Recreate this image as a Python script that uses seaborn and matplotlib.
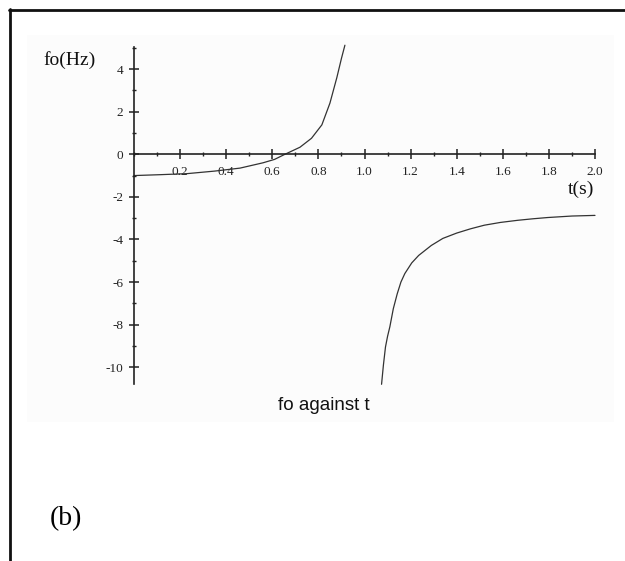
import numpy as np
import pandas as pd
import matplotlib
matplotlib.use("Agg")
import matplotlib.pyplot as plt
from matplotlib.patches import Rectangle
from matplotlib.lines import Line2D
from matplotlib.ticker import MultipleLocator, FixedLocator, FuncFormatter
import seaborn as sns

# fo against t: two branches either side of the pole near t = 1 s
t_left = [0.0, 0.11, 0.23, 0.35, 0.46, 0.56, 0.61, 0.655, 0.72, 0.77, 0.815, 0.85, 0.88, 0.90, 0.915]
fo_left = [-1.0, -0.96, -0.91, -0.79, -0.65, -0.40, -0.24, 0.0, 0.33, 0.75, 1.38, 2.4, 3.6, 4.5, 5.12]

t_right = [1.074, 1.082, 1.091, 1.10, 1.11, 1.125, 1.142, 1.158, 1.175, 1.205, 1.235, 1.29,
           1.34, 1.40, 1.46, 1.52, 1.59, 1.665, 1.73, 1.795, 1.90, 2.0]
fo_right = [-10.8, -9.9, -9.05, -8.55, -8.1, -7.25, -6.55, -6.0, -5.6, -5.1, -4.75, -4.28,
            -3.95, -3.70, -3.50, -3.33, -3.20, -3.10, -3.03, -2.97, -2.90, -2.87]

x_ticks = [0.2, 0.4, 0.6, 0.8, 1.0, 1.2, 1.4, 1.6, 1.8, 2.0]
y_ticks = [-10, -8, -6, -4, -2, 0, 2, 4]

df = pd.DataFrame({
    "t": t_left + t_right,
    "fo": fo_left + fo_right,
    "branch": ["left"] * len(t_left) + ["right"] * len(t_right),
})

sns.set_style("white")
plt.rcParams["axes.unicode_minus"] = False
plt.rcParams["font.family"] = ["Liberation Serif", "DejaVu Serif"]

fig = plt.figure(figsize=(6.25, 5.61), dpi=100)
W, H = 625, 561

# frame lines along the top and left of the figure
fig.add_artist(Line2D([9 / W, 1.0], [1 - 10 / H, 1 - 10 / H], transform=fig.transFigure,
                      color="#111111", lw=2.0))
fig.add_artist(Line2D([10 / W, 10 / W], [0.0, 1 - 9 / H], transform=fig.transFigure,
                      color="#111111", lw=2.0))

# faint panel behind the plot
fig.add_artist(Rectangle((27 / W, 1 - 422 / H), (614 - 27) / W, (422 - 35) / H,
                         transform=fig.transFigure, facecolor="#fcfcfc",
                         edgecolor="none", zorder=-5))

ax = fig.add_axes([134 / W, 1 - 384.3 / H, 461 / W, 337.6 / H])
ax.set_facecolor("none")

sns.lineplot(data=df, x="t", y="fo", units="branch", estimator=None, sort=False,
             color="#333333", linewidth=0.9, ax=ax, legend=False)
for ln in ax.get_lines():
    ln.set_clip_on(False)

ax.set_xlim(0, 2.0)
ax.set_ylim(-10.8, 5.05)

for side in ("top", "right"):
    ax.spines[side].set_visible(False)
ax.spines["left"].set_position(("data", 0))
ax.spines["bottom"].set_position(("data", 0))
for side in ("left", "bottom"):
    ax.spines[side].set_color("#222222")
    ax.spines[side].set_linewidth(1.2)

ax.xaxis.set_major_locator(FixedLocator(x_ticks))
ax.xaxis.set_minor_locator(MultipleLocator(0.1))
ax.yaxis.set_major_locator(FixedLocator(y_ticks))
ax.yaxis.set_minor_locator(FixedLocator([-9, -7, -5, -3, -1, 1, 3, 5]))
ax.xaxis.set_major_formatter(FuncFormatter(lambda v, p: f"{v:.1f}"))
ax.yaxis.set_major_formatter(FuncFormatter(lambda v, p: f"{int(round(v))}"))

ax.tick_params(axis="both", which="both", bottom=True, left=True, top=False, right=False)
ax.tick_params(axis="both", which="major", direction="inout", length=7.5, width=1.1,
               color="#222222", labelsize=9.5, labelcolor="#222222")
ax.tick_params(axis="both", which="minor", direction="inout", length=3.5, width=1.0,
               color="#222222")
ax.tick_params(axis="x", which="major", pad=5.0)
ax.tick_params(axis="y", which="major", pad=4.0)
ax.set_xlabel("")
ax.set_ylabel("")

# axis titles and captions
fig.text(43 / W, 1 - 60 / H, "fo(Hz)", fontsize=14, ha="left", va="center", color="#111111")
fig.text(581 / W, 1 - 189 / H, "t(s)", fontsize=14, ha="center", va="center", color="#111111")
fig.text(324 / W, 1 - 405 / H, "fo against t", fontsize=13.5, ha="center", va="center",
         color="#111111", family=["Liberation Sans", "DejaVu Sans"])
fig.text(66 / W, 1 - 519 / H, "(b)", fontsize=20, ha="center", va="center", color="#000000")

fig.savefig("out.png", dpi=100, facecolor="white")
